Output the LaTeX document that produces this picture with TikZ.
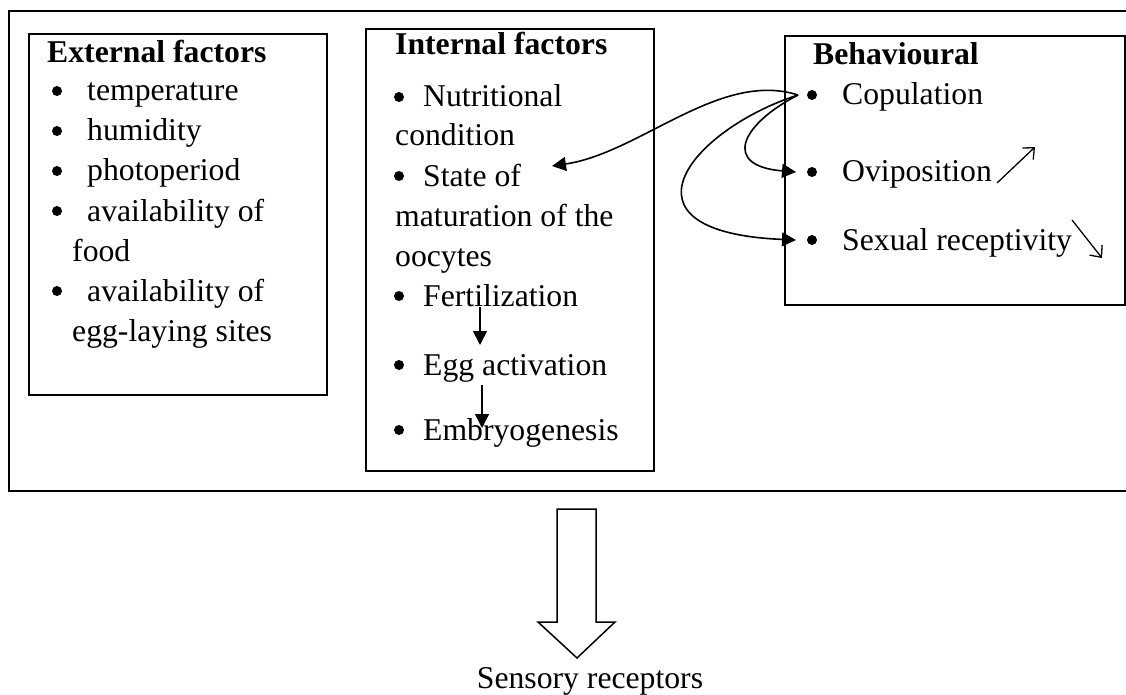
\documentclass[tikz,border=0pt]{standalone}
\usepackage{fontspec}
\setmainfont{Liberation Serif}
\usetikzlibrary{arrows.meta}

\tikzset{
    frame/.style={draw, line width=1.8pt, anchor=north west, inner sep=0pt},
    line/.style={anchor=base west, inner sep=0pt, font=\fontsize{31.7}{38}\selectfont},
    title/.style={line, font=\fontsize{31.7}{38}\selectfont\bfseries},
    dot/.style={circle, fill, inner sep=0pt, minimum size=10pt},
    link/.style={line width=1.6pt, -{Triangle[length=14pt,width=14pt]}},
    trend/.style={line width=1.3pt, -{Straight Barb[length=9pt,width=16pt]}},
}

\begin{document}
\begin{tikzpicture}[x=1pt,y=-1pt]
    \useasboundingbox (0,0) rectangle (1126,695);

    % boxes
    \node[frame, minimum width=1127pt, minimum height=480pt] (outer) at (8,10) {};
    \node[frame, minimum width=298pt, minimum height=361pt] (extbox) at (28,33) {};
    \node[frame, minimum width=288pt, minimum height=442pt] (intbox) at (365,28) {};
    \node[frame, minimum width=340pt, minimum height=269pt] (behbox) at (784,35) {};

    % external factors
    \node[title] (ext) at (47,63) {External factors};
    \node[dot] (e1) at (57,91) {};
    \node[line] (temp) at (87,101) {temperature};
    \node[dot] (e2) at (57,131) {};
    \node[line] (humid) at (87,141) {humidity};
    \node[dot] (e3) at (57,171) {};
    \node[line] (photo) at (87,181) {photoperiod};
    \node[dot] (e4) at (57,211) {};
    \node[line] (avail) at (87,221) {availability of};
    \node[line] (food) at (72,261) {food};
    \node[dot] (e5) at (57,291) {};
    \node[line] (availb) at (87,301) {availability of};
    \node[line] (sites) at (72,341) {egg-laying sites};

    % internal factors
    \node[title] (int) at (395,55) {Internal factors};
    \node[dot] (i1) at (399,97) {};
    \node[line] (nutr) at (423,107) {Nutritional};
    \node[line] (cond) at (395,146) {condition};
    \node[dot] (i2) at (399,176) {};
    \node[line] (state) at (423,186) {State of};
    \node[line] (matur) at (395,226) {maturation of the};
    \node[line] (oocy) at (395,266) {oocytes};
    \node[dot] (i3) at (399,296) {};
    \node[line] (fert) at (423,306) {Fertilization};
    \node[dot] (i4) at (399,365) {};
    \node[line] (eggact) at (423,375) {Egg activation};
    \node[dot] (i5) at (399,430) {};
    \node[line] (embryo) at (423,440) {Embryogenesis};

    % behavioural
    \node[title] (beh) at (813,65) {Behavioural};
    \node[dot] (b1) at (812,95) {};
    \node[line] (copul) at (842,105) {Copulation};
    \node[dot] (b2) at (812,172) {};
    \node[line] (ovip) at (842,182) {Oviposition};
    \node[dot] (b3) at (812,240) {};
    \node[line] (recep) at (842,250) {Sexual receptivity};

    % arrow ends
    \coordinate (src) at (798,95);
    \coordinate (stateend) at (552,166);
    \coordinate (ovipend) at (796,172);
    \coordinate (recepend) at (796,240);
    \coordinate (fertfoot) at (480,307);
    \coordinate (egghead) at (480,345);
    \coordinate (eggfoot) at (482,385);
    \coordinate (embhead) at (482,428);
    \coordinate (upfoot) at (997,183);
    \coordinate (uphead) at (1035,147);
    \coordinate (downfoot) at (1072,220);
    \coordinate (downhead) at (1102,258);

    \draw[link] (src) .. controls (720,70) and (640,153) .. (stateend);
    \draw[link] (src) .. controls (740,125) and (722,166) .. (ovipend);
    \draw[link] (src) .. controls (690,130) and (608,232) .. (recepend);
    \draw[link] (fertfoot) -- (egghead);
    \draw[link] (eggfoot) -- (embhead);
    \draw[trend] (upfoot) -- (uphead);
    \draw[trend] (downfoot) -- (downhead);

    % down arrow to the receptors
    \node[line, anchor=base] (sensory) at (590,688) {Sensory receptors};
    \draw[line width=1.5pt, line join=miter]
        (557,509) -- (596,509) -- (596,622) -- (615,622) -- (577,658)
        -- (538,622) -- (557,622) -- cycle;
\end{tikzpicture}
\end{document}
